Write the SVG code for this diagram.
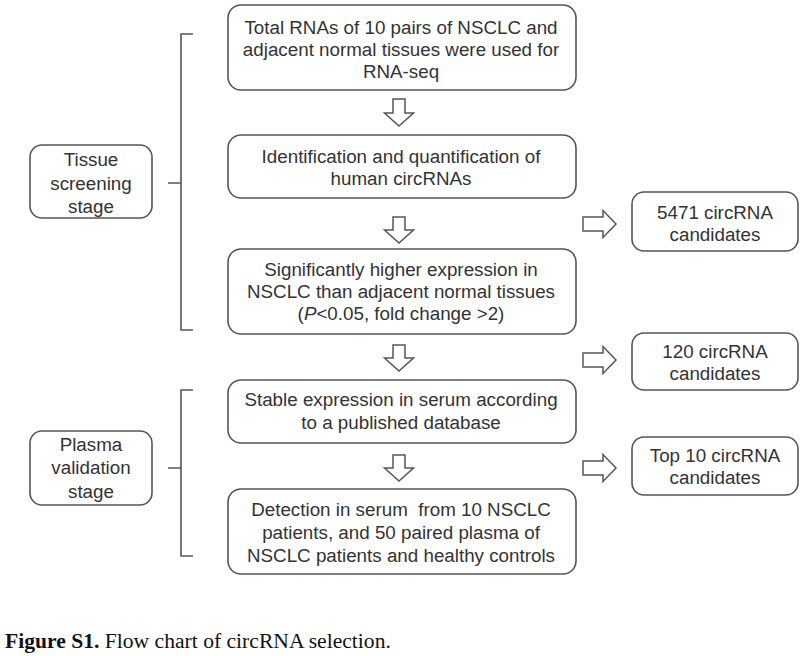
<svg xmlns="http://www.w3.org/2000/svg" width="809" height="656" viewBox="0 0 809 656">
<style>
.box{fill:#fff;stroke:#555;stroke-width:1.6}
.t{font-family:"Liberation Sans",Arial,sans-serif;font-size:18.8px;fill:#333;text-anchor:middle}
.arr{fill:#fff;stroke:#555;stroke-width:1.5;stroke-linejoin:miter}
.br{fill:none;stroke:#555;stroke-width:1.6}
.cap{font-family:"Liberation Serif","Times New Roman",serif;font-size:21.6px;fill:#111}
</style>
<rect width="809" height="656" fill="#fff"/>
<g id="tissue-stage">
<rect class="box" x="30" y="145" width="122" height="73" rx="12"/>
<text class="t" x="91" y="166">Tissue</text>
<text class="t" x="91" y="190">screening</text>
<text class="t" x="91" y="213">stage</text>
</g>
<g id="plasma-stage">
<rect class="box" x="30" y="431" width="122" height="74" rx="12"/>
<text class="t" x="91" y="451">Plasma</text>
<text class="t" x="91" y="474">validation</text>
<text class="t" x="91" y="498">stage</text>
</g>
<g id="step1">
<rect class="box" x="228" y="5" width="348" height="85" rx="13"/>
<text class="t" x="401" y="34">Total RNAs of 10 pairs of NSCLC and</text>
<text class="t" x="401" y="56">adjacent normal tissues were used for</text>
<text class="t" x="401" y="78">RNA-seq</text>
</g>
<g id="step2">
<rect class="box" x="228" y="135" width="348" height="63" rx="13"/>
<text class="t" x="401" y="163">Identification and quantification of</text>
<text class="t" x="401" y="185">human circRNAs</text>
</g>
<g id="step3">
<rect class="box" x="228" y="249" width="348" height="85" rx="13"/>
<text class="t" x="401" y="276">Significantly higher expression in</text>
<text class="t" x="401" y="298">NSCLC than adjacent normal tissues</text>
<text class="t" x="401" y="320">(<tspan font-style="italic">P</tspan>&lt;0.05, fold change &gt;2)</text>
</g>
<g id="step4">
<rect class="box" x="228" y="380" width="348" height="63" rx="13"/>
<text class="t" x="401" y="406">Stable expression in serum according</text>
<text class="t" x="401" y="429">to a published database</text>
</g>
<g id="step5">
<rect class="box" x="228" y="489" width="348" height="85" rx="13"/>
<text class="t" x="401" y="516" style="white-space:pre">Detection in serum  from 10 NSCLC</text>
<text class="t" x="401" y="539">patients, and 50 paired plasma of</text>
<text class="t" x="401" y="562">NSCLC patients and healthy controls</text>
</g>
<g id="result1">
<rect class="box" x="632" y="192" width="166" height="59" rx="12"/>
<text class="t" x="715" y="219">5471 circRNA</text>
<text class="t" x="715" y="241">candidates</text>
</g>
<g id="result2">
<rect class="box" x="632" y="333" width="166" height="57" rx="12"/>
<text class="t" x="715" y="358">120 circRNA</text>
<text class="t" x="715" y="380">candidates</text>
</g>
<g id="result3">
<rect class="box" x="632" y="437" width="166" height="58" rx="12"/>
<text class="t" x="715" y="462">Top 10 circRNA</text>
<text class="t" x="715" y="484">candidates</text>
</g>
<g id="connectors">
<path class="br" d="M193,34 H181 V330 H193 M168,183 H181"/>
<path class="br" d="M193,390 H181 V556 H193 M168,468 H181"/>
<path class="arr" d="M393,99 H405 V113 H413.5 L399,126 L384.5,113 H393 Z"/>
<path class="arr" d="M393,217 H405 V230 H413.5 L399,243 L384.5,230 H393 Z"/>
<path class="arr" d="M393,345 H405 V358 H413.5 L399,371 L384.5,358 H393 Z"/>
<path class="arr" d="M393,455 H405 V468 H413.5 L399,481 L384.5,468 H393 Z"/>
<path class="arr" d="M583,217 H603 V210.5 L616,224 L603,237.5 V231 H583 Z"/>
<path class="arr" d="M583,353 H603 V346.5 L616,360 L603,373.5 V367 H583 Z"/>
<path class="arr" d="M583,461 H603 V454.5 L616,468 L603,481.5 V475 H583 Z"/>
</g>
<text class="cap" x="5" y="648"><tspan font-weight="bold">Figure S1.</tspan> Flow chart of circRNA selection.</text>
</svg>
